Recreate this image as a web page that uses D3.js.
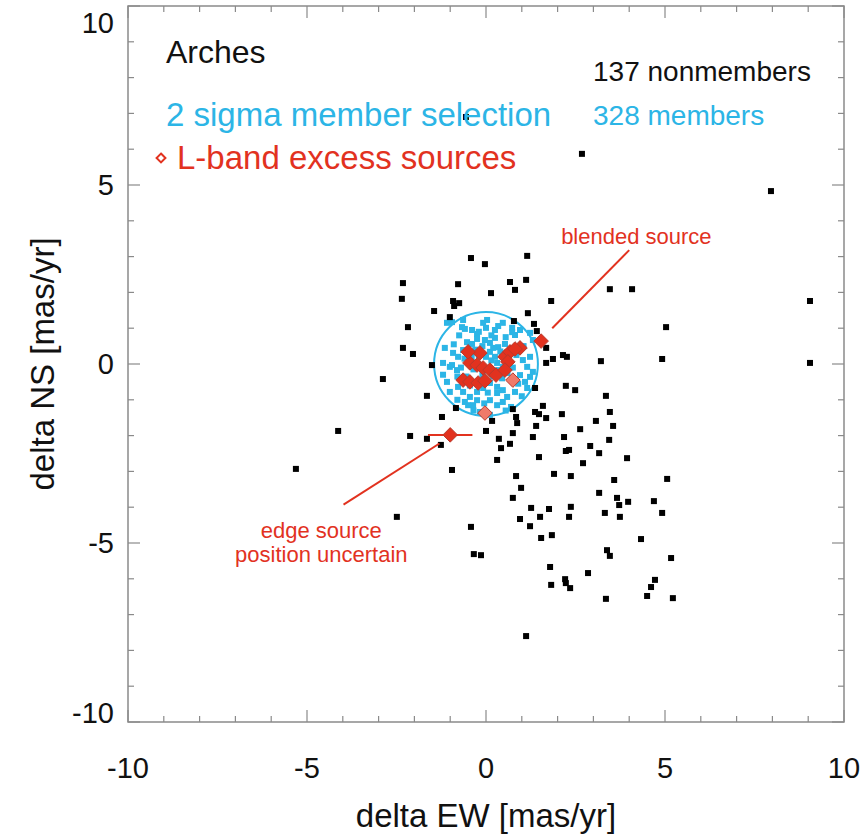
<!DOCTYPE html>
<html><head><meta charset="utf-8">
<script src="https://cdn.jsdelivr.net/npm/d3@7"></script>
<style>body{margin:0;background:#fff}svg{display:block}text{font-family:"Liberation Sans",Arial,Helvetica,sans-serif}</style>
</head><body><div id="chart"></div>
<script>
// ---- data ----
const xDomain = [-10, 10];
const yDomain = [-10, 10];
const majorTicks = [-10, -5, 0, 5, 10];
const minorTicks = d3.range(-9, 10, 1).filter(v => v % 5 !== 0);
const tickLabels = ["-10", "-5", "0", "5", "10"];
const xTitle = "delta EW [mas/yr]";
const yTitle = "delta NS [mas/yr]";
const selectionCenter = [0, 0];
const selectionRadius = 1.45;

const nonmemberX = [2.68,7.96,1.82,3.46,4.08,9.05,5.03,1.87,2.15,2.26,3.21,4.92,9.05,2.23,2.49,3.35,-0.42,-0.03,1.15,-2.32,-0.78,0.67,0.81,1.12,0.14,-2.35,-0.92,-0.75,-0.89,-1.45,-1.01,1.17,-2.18,0.78,1.34,1.42,-2.32,-2.04,1.68,1.68,-1.51,-2.88,1.37,-1.65,1.59,-0.84,0.75,1.37,1.48,2.12,-1.23,0.84,1.68,3.46,0.17,0.87,1.40,3.07,3.55,-2.12,-1.65,0.00,0.75,2.63,0.36,1.31,2.18,3.44,-1.26,0.67,0.42,2.91,2.23,2.32,3.16,1.48,0.31,3.94,2.71,-0.95,1.90,0.84,2.37,3.58,5.06,0.98,3.16,0.75,3.66,3.72,3.97,4.69,1.26,1.76,2.37,3.32,4.92,-2.49,0.95,1.51,2.32,3.74,-0.42,1.23,1.54,1.84,4.33,-0.34,-0.14,3.38,3.46,5.17,1.79,2.85,4.72,4.61,2.21,2.23,2.35,1.82,4.50,3.35,5.22,1.12,-4.13,-5.31,-0.56];
const nonmemberY = [5.87,4.83,1.76,2.09,2.09,1.76,1.03,0.14,0.25,0.20,0.08,0.14,0.03,-0.61,-0.73,-0.89,2.96,2.79,3.02,2.26,2.23,2.29,2.07,2.35,1.98,1.82,1.76,1.70,1.62,1.48,1.31,1.42,1.03,1.20,1.12,0.92,0.45,0.28,0.45,0.03,-0.03,-0.42,-0.67,-0.89,-1.17,-1.23,-1.26,-1.34,-1.40,-1.40,-1.48,-1.48,-1.51,-1.34,-1.59,-1.65,-1.73,-1.59,-1.73,-2.01,-2.09,-1.87,-1.93,-1.82,-2.09,-2.04,-2.04,-2.12,-2.26,-2.23,-2.35,-2.29,-2.43,-2.40,-2.49,-2.60,-2.68,-2.63,-2.77,-2.96,-3.07,-3.13,-3.13,-3.24,-3.21,-3.46,-3.60,-3.74,-3.74,-3.94,-3.85,-3.83,-4.02,-4.05,-3.99,-4.16,-4.16,-4.27,-4.33,-4.27,-4.27,-4.27,-4.55,-4.53,-4.86,-4.78,-4.89,-5.31,-5.34,-5.20,-5.36,-5.42,-5.67,-5.84,-6.03,-6.23,-6.01,-6.12,-6.26,-6.17,-6.48,-6.56,-6.54,-7.60,-1.87,-2.93,6.90];

const memberX = [-1.09,-0.95,-0.67,-0.59,-0.39,-0.25,-0.08,0.00,0.34,0.47,0.73,0.81,0.95,-0.53,-0.39,-0.25,-0.03,0.11,0.25,0.34,0.53,0.67,-0.92,-0.78,-0.64,0.11,0.25,0.45,0.31,0.47,0.34,-1.01,-0.81,1.03,1.15,0.95,1.09,1.23,-0.78,-0.64,-0.45,-0.25,-0.08,0.11,0.31,0.47,0.59,0.81,-0.59,-0.36,0.11,0.31,-1.09,-1.01,-1.20,1.23,1.31,-0.17,0.11,-0.64,0.03,0.25,0.73,-0.95,1.23,1.31,0.31,1.15,-0.25,0.47,-0.50,-0.30,-0.10,0.20,0.40,-0.60,-0.40,-0.20,0.00,0.15,-0.70,-0.35,-0.10,0.20,0.45,0.60,0.75,-0.55,-0.80,0.05,-0.45,0.60,0.85,0.90,-0.90,-0.75,0.55,0.15,-0.20,-1.15,-1.20,1.05,1.00,0.70,-0.80,-0.05,0.55,-0.35];
const memberY = [1.15,1.17,1.03,0.98,0.95,0.84,1.15,1.01,1.06,1.15,0.89,0.81,0.95,0.61,0.56,0.70,0.67,0.59,0.73,0.47,0.56,0.39,0.31,0.20,0.39,0.34,0.20,0.25,0.03,-0.08,-0.17,-0.08,-0.17,0.11,-0.08,-0.31,-0.50,-0.36,-0.64,-0.78,-0.92,-0.78,-0.67,-0.53,-0.64,-0.73,-0.92,-0.78,-1.06,-1.15,-1.01,-1.15,-0.50,-0.78,0.03,0.87,0.67,-1.34,-1.42,1.23,1.23,0.95,1.01,-0.03,0.20,-0.22,-0.81,-0.67,-1.01,-1.06,-1.15,0.40,0.50,0.45,0.35,0.15,0.20,0.25,0.20,0.10,-0.10,-0.15,-0.30,-0.35,-0.40,-0.25,-0.10,-0.35,-0.35,-0.80,-0.60,0.15,0.25,-0.55,0.55,0.80,0.75,0.80,0.90,0.45,-0.30,0.50,-0.90,-1.20,-1.00,-1.10,-1.30,-1.30];

const lbandX = [1.54,0.95,-0.03,0.75,-0.17,-0.45,-0.25,-0.08,0.11,0.28,-0.64,-0.45,-0.22,-0.03,0.53,0.67,0.81,0.61,0.53,-0.50,-1.00];
const lbandY = [0.64,0.45,-1.37,-0.45,0.31,0.03,-0.03,-0.11,-0.17,-0.31,-0.45,-0.50,-0.53,-0.47,0.20,0.34,0.42,0.06,-0.17,0.34,-1.98];
const lbandXErr = [0.15,0.15,0,0,0,0,0,0,0,0,0,0,0,0,0,0,0,0,0,0,0.62];
const lbandYErr = [0.15,0.15,0,0,0,0,0,0,0,0,0,0,0,0,0,0,0,0,0,0,0];
const lbandHollow = [false,false,true,true,false,false,false,false,false,false,false,false,false,false,false,false,false,false,false,false,false];

const annotations = [
  {lines:["blended source"], tx:4.2, ty:3.35, from:[4.0,3.18], to:[1.85,1.0]},
  {lines:["edge source","position uncertain"], tx:-4.6, ty:-4.85, from:[-1.3,-2.22], to:[-3.98,-3.93]}
];
const legendTitle = "Arches";
const legendMembers = "2 sigma member selection";
const legendLband = "L-band excess sources";
const countNon = "137 nonmembers";
const countMem = "328 members";

// ---- drawing ----
const W = 864, H = 838;
const cyan = "#2cb5e6", red = "#e2321f", axisCol = "#8a8a8a";
const svg = d3.select("#chart").append("svg").attr("width", W).attr("height", H);
const x = d3.scaleLinear().domain(xDomain).range([128, 844]);
const y = d3.scaleLinear().domain(yDomain).range([722, 6]);

// frame
svg.append("rect").attr("x", x(-10)).attr("y", y(10)).attr("width", x(10)-x(-10)).attr("height", y(-10)-y(10))
  .attr("fill", "none").attr("stroke", axisCol).attr("stroke-width", 1.5);
const tk = svg.append("g").attr("stroke", axisCol).attr("stroke-width", 1.2);
function ticks(vals, len) {
  vals.forEach(v => {
    tk.append("line").attr("x1", x(v)).attr("x2", x(v)).attr("y1", y(-10)).attr("y2", y(-10)-len);
    tk.append("line").attr("x1", x(v)).attr("x2", x(v)).attr("y1", y(10)).attr("y2", y(10)+len);
    tk.append("line").attr("y1", y(v)).attr("y2", y(v)).attr("x1", x(-10)).attr("x2", x(-10)+len);
    tk.append("line").attr("y1", y(v)).attr("y2", y(v)).attr("x1", x(10)).attr("x2", x(10)-len);
  });
}
ticks(majorTicks, 12);
ticks(minorTicks, 6);
majorTicks.forEach((v, i) => {
  svg.append("text").attr("x", x(v)).attr("y", 778).attr("text-anchor", "middle")
    .attr("font-size", 29).attr("fill", "#111").text(tickLabels[i]);
  svg.append("text").attr("x", 114).attr("y", Math.min(Math.max(y(v), 23), 713)).attr("dy", "0.36em")
    .attr("text-anchor", "end").attr("font-size", 29).attr("fill", "#111").text(tickLabels[i]);
});
svg.append("text").attr("x", x(0)).attr("y", 827).attr("text-anchor", "middle").attr("font-size", 33).attr("fill", "#111").text(xTitle);
svg.append("text").attr("transform", `translate(54,${y(0)}) rotate(-90)`).attr("text-anchor", "middle").attr("font-size", 33).attr("fill", "#111").text(yTitle);

// selection circle
svg.append("circle").attr("cx", x(selectionCenter[0])).attr("cy", y(selectionCenter[1]))
  .attr("r", x(selectionRadius) - x(0)).attr("fill", "none").attr("stroke", cyan).attr("stroke-width", 2);

// members
svg.append("g").selectAll("rect").data(d3.range(memberX.length)).join("rect")
  .attr("x", i => x(memberX[i]) - 3).attr("y", i => y(memberY[i]) - 3)
  .attr("width", 6).attr("height", 6).attr("fill", cyan);
// nonmembers
svg.append("g").selectAll("rect").data(d3.range(nonmemberX.length)).join("rect")
  .attr("x", i => x(nonmemberX[i]) - 3).attr("y", i => y(nonmemberY[i]) - 3)
  .attr("width", 6).attr("height", 6).attr("fill", "#000");

// L-band error bars & diamonds
const lb = svg.append("g");
d3.range(lbandX.length).forEach(i => {
  if (lbandXErr[i] > 0) lb.append("line").attr("x1", x(lbandX[i]-lbandXErr[i])).attr("x2", x(lbandX[i]+lbandXErr[i]))
    .attr("y1", y(lbandY[i])).attr("y2", y(lbandY[i])).attr("stroke", red).attr("stroke-width", 2);
  if (lbandYErr[i] > 0) lb.append("line").attr("y1", y(lbandY[i]-lbandYErr[i])).attr("y2", y(lbandY[i]+lbandYErr[i]))
    .attr("x1", x(lbandX[i])).attr("x2", x(lbandX[i])).attr("stroke", red).attr("stroke-width", 2);
});
const diamond = d3.symbol().type(d3.symbolDiamond2).size(135);
lb.selectAll("path").data(d3.range(lbandX.length)).join("path")
  .attr("d", diamond).attr("transform", i => `translate(${x(lbandX[i])},${y(lbandY[i])})`)
  .attr("fill", i => lbandHollow[i] ? "#f07a6a" : red).attr("stroke", "#b8392c").attr("stroke-width", 1);

// annotations
annotations.forEach(a => {
  svg.append("line").attr("x1", x(a.from[0])).attr("y1", y(a.from[1])).attr("x2", x(a.to[0])).attr("y2", y(a.to[1]))
    .attr("stroke", red).attr("stroke-width", 2);
  a.lines.forEach((t, j) => svg.append("text").attr("x", x(a.tx)).attr("y", y(a.ty) + j*24)
    .attr("text-anchor", "middle").attr("font-size", 22).attr("fill", red).text(t));
});

// legend
svg.append("text").attr("x", 166).attr("y", 63).attr("font-size", 32).attr("fill", "#111").text(legendTitle);
svg.append("text").attr("x", 166).attr("y", 126).attr("font-size", 33).attr("fill", cyan).text(legendMembers);
svg.append("path").attr("d", d3.symbol().type(d3.symbolDiamond2).size(50)).attr("transform", "translate(161,158)")
  .attr("fill", "#fff").attr("stroke", red).attr("stroke-width", 2);
svg.append("text").attr("x", 177).attr("y", 169).attr("font-size", 33).attr("fill", red).text(legendLband);
svg.append("text").attr("x", 593).attr("y", 81).attr("font-size", 28).attr("fill", "#111").text(countNon);
svg.append("text").attr("x", 593).attr("y", 125).attr("font-size", 28).attr("fill", cyan).text(countMem);
</script></body></html>
